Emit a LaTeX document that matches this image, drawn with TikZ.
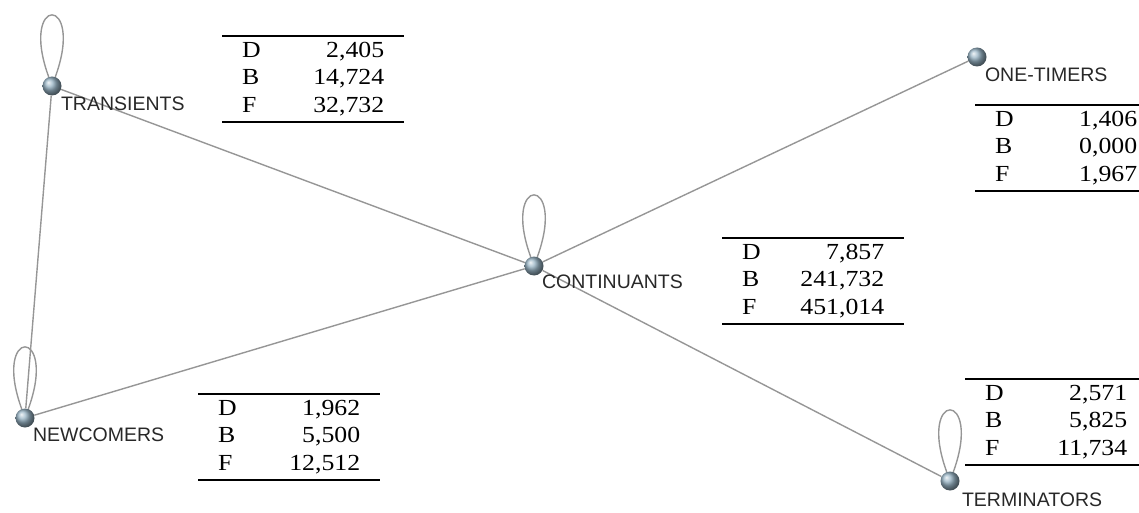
\documentclass[tikz,border=0pt]{standalone}
\usepackage{fontspec}
\newfontfamily\labelfont{Liberation Sans}
\newfontfamily\tabfont[FakeStretch=1.12]{Liberation Serif}
\usepackage{xcolor}
\definecolor{nodesteel}{RGB}{150,178,195}
\definecolor{linkgray}{RGB}{150,150,150}
\definecolor{labelgray}{RGB}{40,40,40}
\usepackage{tikz}
\usetikzlibrary{positioning}
\tikzset{
  actor/.style={circle,inner sep=0pt,minimum size=19pt,ball color=nodesteel},
  actorname/.style={inner sep=0pt,font=\labelfont\fontsize{19.5}{22}\selectfont,text=labelgray},
  link/.style={draw=linkgray,line width=1.4pt},
  selfloop/.style={out=110,in=70,min distance=88pt},
  statbox/.style={anchor=north west,inner xsep=20pt,inner ysep=6pt,text width=142pt,align=left,
    font=\tabfont\fontsize{23}{27.5}\selectfont},
  statrule/.style={line width=1.7pt}
}
\newcommand{\stattable}[5]{%
  \node[statbox] (#1) at (#2) {D\hfill #3\\B\hfill #4\\F\hfill #5};
  \draw[statrule] (#1.north west) -- (#1.north east);
  \draw[statrule] (#1.south west) -- (#1.south east);}

\begin{document}
\begin{tikzpicture}[x=1pt,y=1pt]
  \useasboundingbox (0,0) rectangle (1139,512);
  % actors
  \node[actor] (trans) at (52,426) {};
  \node[actor] (cont) at (534,246) {};
  \node[actor] (newc) at (25,94) {};
  \node[actor] (term) at (950,31) {};
  \node[actor] (one) at (977,455) {};
  % links
  \draw[link] (trans) -- (cont);
  \draw[link] (trans) -- (newc);
  \draw[link] (newc) -- (cont);
  \draw[link] (cont) -- (one);
  \draw[link] (cont) -- (term);
  \foreach \who in {trans,cont,newc,term}{\draw[link] (\who) to[selfloop] (\who);}
  % names
  \node[actorname,below right=4pt and 2pt of trans] (trans-name) {TRANSIENTS};
  \node[actorname,below right=2pt and 1pt of cont] (cont-name) {CONTINUANTS};
  \node[actorname,below right=3pt and 1pt of newc] (newc-name) {NEWCOMERS};
  \node[actorname,below right=5pt and 5pt of term] (term-name) {TERMINATORS};
  \node[actorname,below right=4pt and 1pt of one] (one-name) {ONE-TIMERS};
  % D / B / F tables
  \stattable{trans-tab}{222,476}{2,405}{14,724}{32,732}
  \stattable{cont-tab}{722,274}{7,857}{241,732}{451,014}
  \stattable{newc-tab}{198,118}{1,962}{5,500}{12,512}
  \stattable{term-tab}{965,133}{2,571}{5,825}{11,734}
  \stattable{one-tab}{975,407}{1,406}{0,000}{1,967}
\end{tikzpicture}
\end{document}
